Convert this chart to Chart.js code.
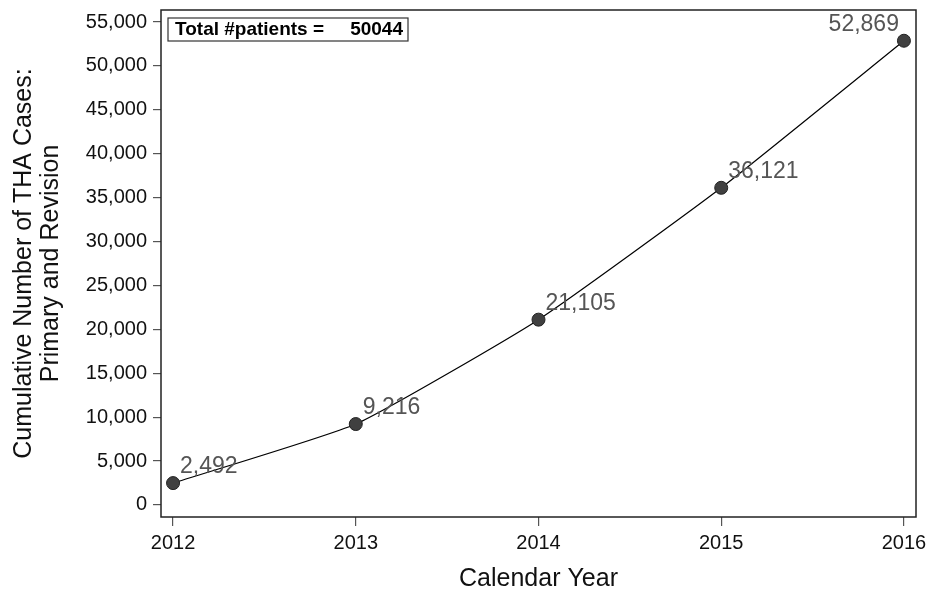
<html>
<head>
    <meta charset="utf-8" />
    <title>Cumulative THA cases</title>
    <script src="https://cdn.jsdelivr.net/npm/chart.js@4.4.1/dist/chart.umd.min.js"></script>
    <style>
        body { margin: 0; background: #fff; }
        #wrap { width: 928px; height: 592px; }
    </style>
</head>
<body>
    <div id="wrap"><canvas id="grafico"></canvas></div>
    <script>
        // data
        const anos = [2012, 2013, 2014, 2015, 2016];
        const casos = [2492, 9216, 21105, 36121, 52869];
        const yTicks = [0, 5000, 10000, 15000, 20000, 25000, 30000, 35000, 40000, 45000, 50000, 55000];
        const totalPacientes = 50044;

        const fonte = "'Liberation Sans', Arial, sans-serif";

        // value labels next to each point
        const rotulos = {
            id: 'rotulos',
            afterDatasetsDraw(chart) {
                const ctx = chart.ctx;
                const meta = chart.getDatasetMeta(0);
                ctx.save();
                ctx.font = '23px ' + fonte;
                ctx.fillStyle = '#555';
                ctx.textBaseline = 'middle';
                meta.data.forEach((p, i) => {
                    const txt = casos[i].toLocaleString('en-US');
                    if (i == casos.length - 1) {
                        ctx.textAlign = 'right';
                        ctx.fillText(txt, p.x - 5, p.y - 16);
                    } else {
                        ctx.textAlign = 'left';
                        ctx.fillText(txt, p.x + 7, p.y - 16);
                    }
                });
                ctx.restore();
            }
        };

        // frame round the plot + the total box
        const moldura = {
            id: 'moldura',
            afterDraw(chart) {
                const ctx = chart.ctx;
                const a = chart.chartArea;
                ctx.save();
                ctx.strokeStyle = '#222';
                ctx.lineWidth = 1.5;
                ctx.strokeRect(a.left, a.top, a.right - a.left, a.bottom - a.top);

                ctx.lineWidth = 1.2;
                ctx.strokeStyle = '#333';
                ctx.strokeRect(a.left + 7, a.top + 8, 240, 23);
                ctx.font = 'bold 19px ' + fonte;
                ctx.fillStyle = '#000';
                ctx.textBaseline = 'middle';
                ctx.textAlign = 'left';
                ctx.fillText('Total #patients =', a.left + 14, a.top + 20);
                ctx.textAlign = 'right';
                ctx.fillText(String(totalPacientes), a.left + 242, a.top + 20);
                ctx.restore();
            }
        };

        new Chart(document.getElementById('grafico'), {
            type: 'line',
            data: {
                datasets: [{
                    data: anos.map((a, i) => ({ x: a, y: casos[i] })),
                    borderColor: '#000',
                    borderWidth: 1.2,
                    tension: 0.15,
                    pointRadius: 6.5,
                    pointHoverRadius: 6.5,
                    pointBackgroundColor: '#404040',
                    pointBorderColor: '#222',
                    pointBorderWidth: 1,
                    clip: false
                }]
            },
            options: {
                responsive: true,
                maintainAspectRatio: false,
                animation: false,
                layout: { padding: { top: 10, right: 12, left: 0, bottom: 0 } },
                plugins: {
                    legend: { display: false },
                    tooltip: { enabled: false }
                },
                scales: {
                    x: {
                        type: 'linear',
                        min: 2011.934,
                        max: 2016.066,
                        afterBuildTicks: (s) => { s.ticks = anos.map(v => ({ value: v })); },
                        afterFit: (s) => { s.height = 75; s.paddingLeft = 0; s.paddingRight = 0; },
                        grid: { drawOnChartArea: false, drawTicks: true, tickLength: 9, color: '#555', lineWidth: 1.2 },
                        border: { display: false },
                        ticks: {
                            color: '#111',
                            padding: 5,
                            maxRotation: 0,
                            font: { family: fonte, size: 20 },
                            callback: (v) => String(v)
                        },
                        title: {
                            display: true,
                            text: 'Calendar Year',
                            color: '#111',
                            font: { family: fonte, size: 25, lineHeight: 1.0 },
                            padding: { top: 0, bottom: 0 }
                        }
                    },
                    y: {
                        min: -1370,
                        max: 56370,
                        afterBuildTicks: (s) => { s.ticks = yTicks.map(v => ({ value: v })); },
                        afterFit: (s) => { s.width = 161; s.paddingTop = 0; s.paddingBottom = 0; },
                        grid: { drawOnChartArea: false, drawTicks: true, tickLength: 8, color: '#555', lineWidth: 1.2 },
                        border: { display: false },
                        ticks: {
                            color: '#111',
                            padding: 6,
                            font: { family: fonte, size: 20 },
                            callback: (v) => v.toLocaleString('en-US')
                        },
                        title: {
                            display: true,
                            text: ['Cumulative Number of THA Cases:', 'Primary and Revision'],
                            color: '#111',
                            font: { family: fonte, size: 25, lineHeight: 1.1 },
                            padding: { top: 10, bottom: 0 }
                        }
                    }
                }
            },
            plugins: [rotulos, moldura]
        });
    </script>
</body>
</html>
